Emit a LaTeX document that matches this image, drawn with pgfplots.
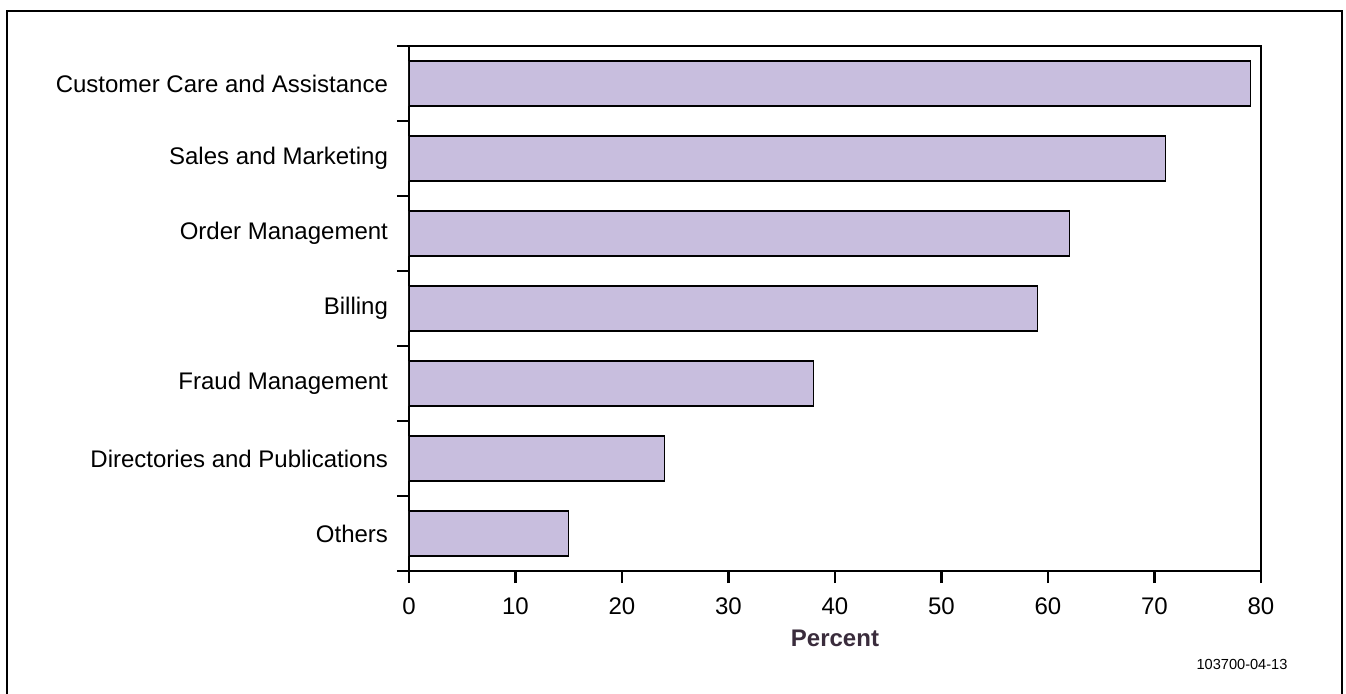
\documentclass[border=0pt]{standalone}
\usepackage{fontspec}
\setmainfont{Liberation Sans}
\usepackage{pgfplots}
\pgfplotsset{compat=1.18}

\definecolor{barfill}{RGB}{200,190,222}
\definecolor{labelink}{RGB}{58,44,60}

\begin{document}
\begin{tikzpicture}
  % page area and outer frame
  \path[use as bounding box] (0,0) rectangle (673pt,346.5pt);
  \draw[line width=1pt] (3.25pt,-1pt) -- (3.25pt,341pt) -- (671pt,341pt) -- (671pt,-1pt);

  \begin{axis}[
    at={(204.5pt,61pt)}, anchor=south west,
    scale only axis,
    width=426pt, height=262.5pt,
    xbar, bar width=0.6,
    xmin=0, xmax=80,
    ymin=-0.5, ymax=6.5,
    xtick={0,10,...,80},
    ytick={0,...,6},
    yticklabels={Others,Directories and Publications,Fraud Management,Billing,Order Management,Sales and Marketing,Customer Care and Assistance},
    minor ytick={-0.5,0.5,...,6.5},
    xtick pos=bottom, ytick pos=left,
    tick align=outside,
    major tick length=6pt, minor tick length=6pt,
    major y tick style={draw=none},
    every tick/.style={black, line width=1.2pt},
    every minor tick/.style={black, line width=1.2pt},
    axis line style={line width=1.2pt},
    font=\fontsize{12}{14}\selectfont,
    /pgf/number format/assume math mode=true,
    xticklabel style={yshift=-4pt},
    yticklabel style={xshift=-1pt},
    xlabel={\bfseries Percent},
    xlabel style={text=labelink, yshift=-0.5pt},
  ]
    \addplot[fill=barfill, draw=black, line width=0.6pt] coordinates {
      (15,0) (24,1) (38,2) (59,3) (62,4) (71,5) (79,6)
    };
  \end{axis}

  \node[font=\fontsize{7.3}{9}\selectfont] at (621pt,14.5pt) {103700-04-13};
\end{tikzpicture}
\end{document}
